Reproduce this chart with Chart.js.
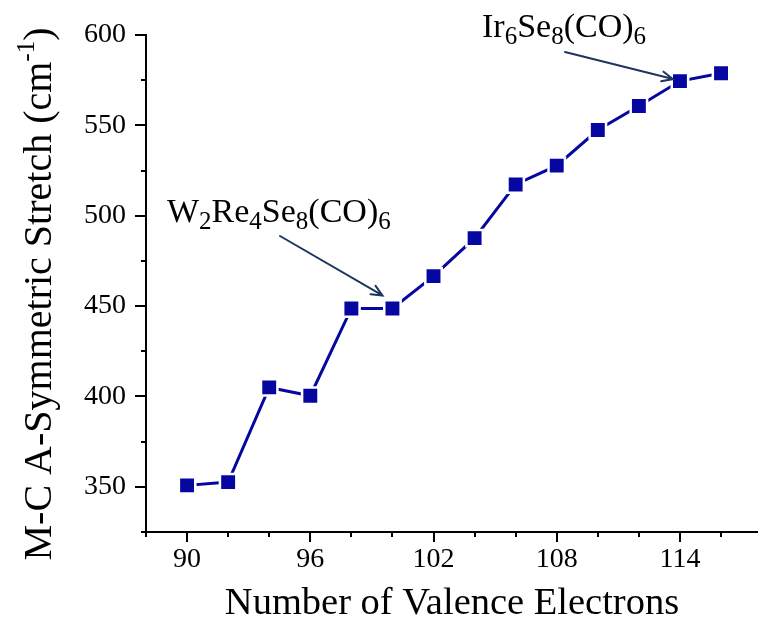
<!DOCTYPE html>
<html>
<head>
<meta charset="utf-8">
<script src="https://cdn.jsdelivr.net/npm/chart.js@4/dist/chart.umd.min.js"></script>
<style>
  html, body { margin: 0; padding: 0; background: #ffffff; }
  canvas { display: block; }
</style>
</head>
<body>
<canvas id="chart" width="758" height="627"></canvas>
<script>
// Valence electron count vs. M-C asymmetric stretch frequency
const valenceElectrons = [90, 92, 94, 96, 98, 100, 102, 104, 106, 108, 110, 112, 114, 116];
const stretchFreq = [350.8, 352.6, 405.0, 400.4, 448.7, 448.7, 466.6, 487.6, 517.3, 527.7, 547.4, 560.7, 574.5, 578.8];

const xTickValues = [90, 96, 102, 108, 114];
const xMinorValues = [88, 92, 94, 98, 100, 104, 106, 110, 112, 116];
const yTickValues = [350, 400, 450, 500, 550, 600];
const yMinorValues = [325, 375, 425, 475, 525, 575];

const xTitle = 'Number of Valence Electrons';
const yTitleParts = [['M-C A-Symmetric Stretch (cm', 'n'], ['-1', 'sup'], [')', 'n']];
const labelW = [['W', 'n'], ['2', 'sub'], ['Re', 'n'], ['4', 'sub'], ['Se', 'n'], ['8', 'sub'], ['(CO)', 'n'], ['6', 'sub']];
const labelIr = [['Ir', 'n'], ['6', 'sub'], ['Se', 'n'], ['8', 'sub'], ['(CO)', 'n'], ['6', 'sub']];

const SERIF = '"Liberation Serif", "Times New Roman", serif';
const LINE_COLOR = '#0606a0';
const ARROW_COLOR = '#1d3660';

// Annotated clusters: label text, the point the arrow points at, and layout
const callouts = [
  { parts: labelW, index: 5, textX: 167, textY: 222, size: 33.5, from: [280, 236], tip: [-10, -13] },
  { parts: labelIr, index: 12, textX: 482, textY: 37, size: 33.5, from: [565, 52], tip: [-7, -2] }
];

function partFont(kind, size) {
  const s = kind === 'n' ? size : (kind === 'sub' ? size * 0.74 : size * 0.62);
  return Math.round(s) + 'px ' + SERIF;
}
function partShift(kind, size) {
  if (kind === 'sub') return size * 0.2;
  if (kind === 'sup') return -size * 0.42;
  return 0;
}
function richWidth(ctx, parts, size) {
  let w = 0;
  for (const [t, k] of parts) { ctx.font = partFont(k, size); w += ctx.measureText(t).width; }
  return w;
}
function drawRich(ctx, parts, x, y, size, color) {
  ctx.fillStyle = color;
  ctx.textBaseline = 'alphabetic';
  ctx.textAlign = 'left';
  let cx = x;
  for (const [t, k] of parts) {
    ctx.font = partFont(k, size);
    ctx.fillText(t, cx, y + partShift(k, size));
    cx += ctx.measureText(t).width;
  }
}

function drawArrow(ctx, x0, y0, x1, y1) {
  const ang = Math.atan2(y1 - y0, x1 - x0);
  const head = 12, spread = 0.42;
  ctx.save();
  ctx.strokeStyle = ARROW_COLOR;
  ctx.lineWidth = 2;
  ctx.lineCap = 'round';
  ctx.beginPath();
  ctx.moveTo(x0, y0);
  ctx.lineTo(x1, y1);
  ctx.moveTo(x1 - head * Math.cos(ang - spread), y1 - head * Math.sin(ang - spread));
  ctx.lineTo(x1, y1);
  ctx.lineTo(x1 - head * Math.cos(ang + spread), y1 - head * Math.sin(ang + spread));
  ctx.stroke();
  ctx.restore();
}

// Outward tick marks (long for labelled values, short for the ones between)
const tickMarks = {
  id: 'tickMarks',
  afterDraw(chart) {
    const { ctx, chartArea, scales } = chart;
    const xs = scales.x, ys = scales.y;
    ctx.save();
    ctx.strokeStyle = '#000';
    ctx.lineWidth = 2;
    ctx.beginPath();
    for (const v of xTickValues) {
      const px = Math.round(xs.getPixelForValue(v));
      ctx.moveTo(px, chartArea.bottom); ctx.lineTo(px, chartArea.bottom + 10);
    }
    for (const v of xMinorValues) {
      const px = Math.round(xs.getPixelForValue(v));
      ctx.moveTo(px, chartArea.bottom); ctx.lineTo(px, chartArea.bottom + 5);
    }
    for (const v of yTickValues) {
      const py = Math.round(ys.getPixelForValue(v));
      ctx.moveTo(chartArea.left, py); ctx.lineTo(chartArea.left - 11, py);
    }
    for (const v of yMinorValues) {
      const py = Math.round(ys.getPixelForValue(v));
      ctx.moveTo(chartArea.left, py); ctx.lineTo(chartArea.left - 5, py);
    }
    ctx.stroke();
    ctx.restore();
  }
};

// Rotated y-axis title with a superscript unit
const yAxisTitle = {
  id: 'yAxisTitle',
  afterDraw(chart) {
    const ctx = chart.ctx;
    const size = 40;
    const w = richWidth(ctx, yTitleParts, size);
    ctx.save();
    ctx.translate(51, 294);
    ctx.rotate(-Math.PI / 2);
    drawRich(ctx, yTitleParts, -w / 2, 0, size, '#000');
    ctx.restore();
  }
};

// Formula labels with arrows pointing at their data points
const calloutLabels = {
  id: 'callouts',
  afterDatasetsDraw(chart) {
    const ctx = chart.ctx;
    const xs = chart.scales.x, ys = chart.scales.y;
    ctx.save();
    for (const c of callouts) {
      drawRich(ctx, c.parts, c.textX, c.textY, c.size, '#000');
      const px = xs.getPixelForValue(valenceElectrons[c.index]);
      const py = ys.getPixelForValue(stretchFreq[c.index]);
      drawArrow(ctx, c.from[0], c.from[1], px + c.tip[0], py + c.tip[1]);
    }
    ctx.restore();
  }
};

new Chart(document.getElementById('chart'), {
  type: 'line',
  data: {
    datasets: [{
      data: valenceElectrons.map((x, i) => ({ x: x, y: stretchFreq[i] })),
      borderColor: LINE_COLOR,
      borderWidth: 3,
      backgroundColor: LINE_COLOR,
      pointStyle: 'rect',
      pointRadius: 11.6,
      pointBackgroundColor: LINE_COLOR,
      pointBorderColor: '#ffffff',
      pointBorderWidth: 2.5,
      tension: 0,
      fill: false
    }]
  },
  options: {
    responsive: false,
    animation: false,
    devicePixelRatio: 1,
    layout: { autoPadding: false, padding: { top: 35, right: 0, left: 0, bottom: 0 } },
    plugins: { legend: { display: false }, tooltip: { enabled: false } },
    scales: {
      x: {
        type: 'linear',
        min: 88,
        max: 117.8,
        grid: { display: false, drawTicks: false },
        border: { display: true, color: '#000', width: 2 },
        ticks: {
          font: { family: SERIF, size: 28 },
          color: '#000',
          padding: 11,
          maxRotation: 0,
          autoSkip: false,
          callback: v => String(v)
        },
        afterBuildTicks: s => { s.ticks = xTickValues.map(v => ({ value: v })); },
        afterFit: s => { s.height = 95; s.paddingLeft = 0; s.paddingRight = 0; },
        title: {
          display: true,
          text: xTitle,
          font: { family: SERIF, size: 38.5 },
          color: '#000',
          padding: { top: 0, bottom: 0 }
        }
      },
      y: {
        type: 'linear',
        min: 325,
        max: 600,
        grid: { display: false, drawTicks: false },
        border: { display: true, color: '#000', width: 2 },
        ticks: {
          font: { family: SERIF, size: 28 },
          color: '#000',
          padding: 20,
          autoSkip: false,
          callback: v => String(v)
        },
        afterBuildTicks: s => { s.ticks = yTickValues.map(v => ({ value: v })); },
        afterFit: s => { s.width = 146; s.paddingTop = 0; s.paddingBottom = 0; }
      }
    }
  },
  plugins: [tickMarks, yAxisTitle, calloutLabels]
});
</script>
</body>
</html>
